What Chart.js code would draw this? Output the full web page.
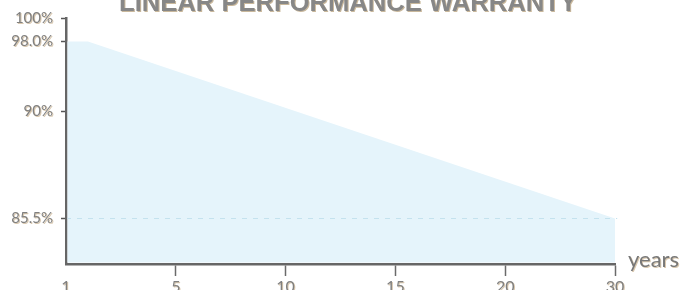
<!DOCTYPE html>
<html>
<head>
<meta charset="utf-8">
<script src="https://cdn.jsdelivr.net/npm/chart.js@4/dist/chart.umd.min.js"></script>
<style>
  html, body { margin: 0; padding: 0; background: #fff; overflow: hidden; }
  #wrap { position: relative; width: 682px; height: 290px; }
  #title {
    position: absolute; left: 119px; top: -10px; margin: 0;
    font: bold 25.6px "Liberation Sans", Arial, sans-serif; line-height: 25.6px;
    color: #878787; text-shadow: 1px 1px 0 #c9b89c; white-space: nowrap;
  }
</style>
</head>
<body>
<div id="wrap">
  <canvas id="chart" width="682" height="290"></canvas>
  <div id="title">LINEAR PERFORMANCE WARRANTY</div>
</div>
<script>
// warranty curve: flat 98% first year, then linear down to 85.5% at year 30
const years = [1, 1.8, 30];
const warranty = [98, 98, 85.5];
const guideYears = [1, 30.2];
const guideLevel = [85.5, 85.5];

const xTicks = [1, 5, 10, 15, 20, 30];
const yTicks = [85.5, 90, 98, 100];
const yTickLabels = ['85.5%', '90%', '98.0%', '100%'];

// the picture's axes are schematic (not linear), so map values through breakpoints
const yStops = [[80, 0], [85.5, 45.5], [90, 152.5], [98, 222.5], [100, 246]];
function warpY(v) {
  for (let i = 1; i < yStops.length; i++) {
    const [a, pa] = yStops[i - 1], [b, pb] = yStops[i];
    if (v <= b) return pa + (v - a) / (b - a) * (pb - pa);
  }
  return yStops[yStops.length - 1][1];
}
function warpX(v) {
  for (let i = 1; i < xTicks.length; i++) {
    const a = xTicks[i - 1], b = xTicks[i];
    if (v <= b || i === xTicks.length - 1) return (i - 1) + (v - a) / (b - a);
  }
}
const pts = (xs, ys) => xs.map((x, i) => ({ x: warpX(x), y: warpY(ys[i]) }));

const font = 'Lato, "Open Sans", sans-serif';
const textGrey = '#808080';
const shadow = 'rgba(185,155,110,0.55)';

// tan text shadow on the tick labels only (labels are drawn in a layer after the datasets)
const textShadow = {
  id: 'textShadow',
  afterDatasetsDraw(chart) {
    const ctx = chart.ctx;
    ctx.shadowColor = shadow;
    ctx.shadowOffsetX = 1;
    ctx.shadowOffsetY = 1;
    ctx.shadowBlur = 0;
  },
  afterDraw(chart) {
    chart.ctx.shadowColor = 'rgba(0,0,0,0)';
  }
};

const yearsLabel = {
  id: 'yearsLabel',
  afterDraw(chart) {
    const { ctx, chartArea } = chart;
    ctx.save();
    ctx.font = '22px ' + font;
    ctx.fillStyle = '#787878';
    ctx.shadowColor = shadow;
    ctx.shadowOffsetX = 1;
    ctx.shadowOffsetY = 1;
    ctx.textBaseline = 'alphabetic';
    ctx.fillText('years', chartArea.right + 13, chartArea.bottom + 3);
    ctx.restore();
  }
};

new Chart(document.getElementById('chart'), {
  type: 'line',
  data: {
    datasets: [{
      data: pts(years, warranty),
      order: 2,
      clip: { left: -1.5, top: 5, right: 5, bottom: -1.5 },
      borderWidth: 0,
      borderColor: 'rgba(0,0,0,0)',
      backgroundColor: '#e5f4fb',
      fill: 'start',
      pointRadius: 0,
      tension: 0
    }, {
      data: pts(guideYears, guideLevel),
      order: 1,
      clip: { left: -1.5, top: 5, right: 5, bottom: 5 },
      borderWidth: 1,
      borderColor: '#c4e2ee',
      borderDash: [5, 6],
      fill: false,
      pointRadius: 0
    }]
  },
  options: {
    responsive: false,
    animation: false,
    layout: { padding: { top: 18, right: 67, left: 0, bottom: 0 } },
    plugins: { legend: { display: false }, tooltip: { enabled: false } },
    scales: {
      x: {
        type: 'linear',
        min: 0,
        max: xTicks.length - 1,
        afterBuildTicks: s => { s.ticks = xTicks.map((t, i) => ({ value: i })); },
        afterFit: s => { s.height = 26; },
        ticks: {
          z: 1,
          callback: (v) => xTicks[v],
          color: textGrey,
          font: { family: font, size: 16 },
          padding: 1,
          maxRotation: 0,
          autoSkip: false
        },
        grid: {
          drawOnChartArea: false,
          drawTicks: true,
          tickLength: 12,
          tickWidth: 1.5,
          tickColor: c => c.index === 0 ? 'rgba(0,0,0,0)' : '#6a6a6a'
        },
        border: { display: true, color: '#666', width: 2.5 }
      },
      y: {
        type: 'linear',
        min: 0,
        max: 246,
        afterBuildTicks: s => { s.ticks = yTicks.map(t => ({ value: warpY(t) })); },
        afterFit: s => { s.width = 66; },
        ticks: {
          z: 1,
          callback: (v, i) => yTickLabels[i],
          color: textGrey,
          font: { family: font, size: 15 },
          padding: 8
        },
        grid: {
          drawOnChartArea: false,
          drawTicks: true,
          tickLength: 5,
          tickWidth: 1.5,
          tickColor: '#555'
        },
        border: { display: true, color: '#666', width: 2.5 }
      }
    }
  },
  plugins: [textShadow, yearsLabel]
});
</script>
</body>
</html>
